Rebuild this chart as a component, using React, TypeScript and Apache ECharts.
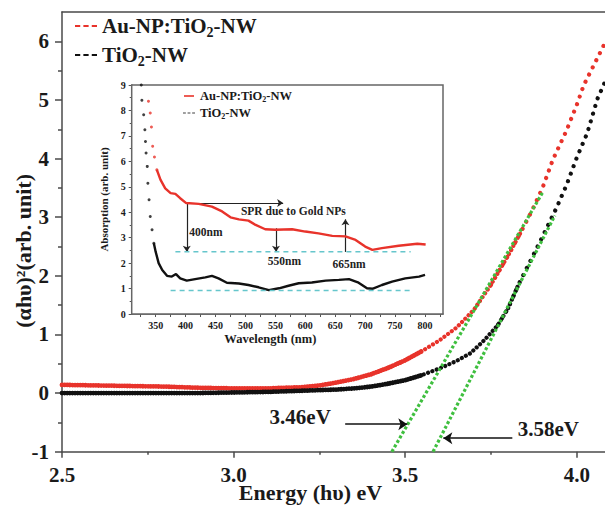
import React, { useEffect, useRef } from 'react';
import * as echarts from 'echarts';

const FONT = "'Liberation Serif', 'Times New Roman', Times, serif";
const RED = '#e8332b';
const BLACK = '#111111';
const GREEN = '#3fbf3f';
const CYAN = '#66c6cc';
const AXIS = '#4a4a4a';
const TXT = '#1a1a1a';

// Main plot: (alpha h nu)^2 vs energy
const energyAu = [2.5, 2.6, 2.7, 2.8, 2.9, 3.0, 3.1, 3.2, 3.25, 3.3, 3.35, 3.4, 3.45, 3.5, 3.55, 3.6, 3.65, 3.7, 3.75, 3.8, 3.84, 3.87, 3.9, 3.93, 3.97, 4.0, 4.02, 4.05, 4.08];
const absAu = [0.14, 0.13, 0.12, 0.11, 0.09, 0.08, 0.08, 0.1, 0.13, 0.18, 0.24, 0.32, 0.43, 0.56, 0.72, 0.9, 1.12, 1.42, 1.85, 2.35, 2.78, 3.12, 3.5, 3.98, 4.48, 4.92, 5.25, 5.6, 5.95];
const energyTi = [2.5, 2.7, 2.9, 3.0, 3.1, 3.2, 3.3, 3.35, 3.4, 3.45, 3.5, 3.55, 3.6, 3.65, 3.69, 3.73, 3.77, 3.8, 3.83, 3.86, 3.89, 3.94, 3.97, 4.0, 4.03, 4.06, 4.08];
const absTi = [0.0, 0.0, 0.0, 0.01, 0.02, 0.04, 0.06, 0.08, 0.11, 0.16, 0.22, 0.31, 0.42, 0.55, 0.68, 0.9, 1.16, 1.45, 1.85, 2.2, 2.55, 3.15, 3.55, 4.02, 4.43, 5.02, 5.28];
const tangentAuE = [3.461, 3.9];
const tangentAuY = [-1, 3.42];
const tangentTiE = [3.581, 3.936];
const tangentTiY = [-1, 3.03];

const mainXTicks = [2.5, 3.0, 3.5, 4.0];
const mainXMinor = [2.75, 3.25, 3.75];
const mainYTicks = [-1, 0, 1, 2, 3, 4, 5, 6];
const mainYMinor = [-0.5, 0.5, 1.5, 2.5, 3.5, 4.5, 5.5];

// Inset: absorption vs wavelength
const insetAuSteepNm = [338, 341, 343, 345, 348, 352];
const insetAuSteepVal = [8.36, 7.9, 7.35, 6.59, 6.17, 5.67];
const insetAuNm = [352, 358, 366, 375, 383, 391, 401, 422, 444, 461, 475, 489, 505, 517, 533, 550, 578, 600, 622, 645, 667, 684, 700, 712, 728, 756, 787, 801];
const insetAuVal = [5.67, 5.28, 4.94, 4.75, 4.72, 4.55, 4.36, 4.33, 4.22, 4.03, 3.8, 3.72, 3.67, 3.5, 3.33, 3.31, 3.33, 3.24, 3.17, 3.07, 3.05, 2.91, 2.65, 2.52, 2.59, 2.68, 2.76, 2.73];
const insetTiSteepNm = [326, 327, 330, 332, 333, 334, 336, 337, 339, 341, 344, 347];
const insetTiSteepVal = [9.0, 8.4, 7.83, 7.24, 6.78, 6.33, 5.8, 5.14, 4.49, 3.83, 3.31, 2.78];
const insetTiNm = [347, 350, 355, 361, 369, 377, 384, 391, 402, 416, 433, 444, 455, 469, 489, 505, 522, 539, 556, 572, 589, 611, 634, 656, 673, 689, 703, 712, 728, 745, 767, 790, 800];
const insetTiVal = [2.78, 2.45, 2.0, 1.73, 1.5, 1.47, 1.57, 1.4, 1.31, 1.37, 1.44, 1.5, 1.4, 1.23, 1.2, 1.14, 1.05, 0.94, 1.01, 1.11, 1.21, 1.24, 1.31, 1.34, 1.37, 1.23, 1.01, 0.99, 1.14, 1.27, 1.4, 1.47, 1.54];
const cyanUpperNm = [383, 776];
const cyanUpperVal = [2.45, 2.45];
const cyanLowerNm = [375, 776];
const cyanLowerVal = [0.92, 0.92];

const insetXLabels = [350, 400, 450, 500, 550, 600, 650, 700, 750, 800];
const insetXTicks = [325, 350, 375, 400, 425, 450, 475, 500, 525, 550, 575, 600, 625, 650, 675, 700, 725, 750, 775, 800, 825];

const AU = 'Au-NP:TiO2-NW';
const TI = 'TiO2-NW';
const AU_IN = 'inset Au-NP:TiO2-NW';
const TI_IN = 'inset TiO2-NW';

const pairs = (xs: number[], ys: number[]) => xs.map((x, i) => [x, ys[i]]);
const segment = (xs: number[], ys: number[], lo: number, hi: number) => {
  const idx = xs.map((x, i) => i).filter((i) => xs[i] >= lo && xs[i] <= hi);
  const a = Math.max(0, idx[0] - 1);
  const b = Math.min(xs.length - 1, idx[idx.length - 1] + 1);
  const out: number[][] = [];
  for (let i = a; i <= b; i++) out.push([xs[i], ys[i]]);
  return out;
};

const DASH3 = 'path://M0,0h5v2h-5zM8,0h5v2h-5zM16,0h5v2h-5z';
const SOLID = 'path://M0,0h10v2h-10z';

const bands = [
  { lo: 2.5, hi: 3.5, gap: 2.6, width: 4.8 },
  { lo: 3.5, hi: 3.8, gap: 4.6, width: 4.2 },
  { lo: 3.8, hi: 4.1, gap: 8, width: 4.2 },
];

export default function App() {
  const ref = useRef<HTMLDivElement>(null);
  useEffect(() => {
    if (!ref.current) return;
    const chart = echarts.init(ref.current, undefined, { renderer: 'svg' });
    const bold = { fontFamily: FONT, fontWeight: 'bold' as const, color: TXT };

    const mainCurve = (name: string, xs: number[], ys: number[], color: string) =>
      bands.map((b) => ({
        name,
        type: 'line',
        xAxisIndex: 0,
        yAxisIndex: 0,
        data: segment(xs, ys, b.lo, b.hi),
        showSymbol: false,
        color,
        silent: true,
        z: 3,
        lineStyle: { color, width: b.width, type: [0.01, b.gap], cap: 'round' },
      }));

    const option: any = {
      animation: false,
      backgroundColor: '#fff',
      grid: [
        { left: 62, top: 12, width: 543, height: 439.7, outerBoundsMode: 'none', containLabel: false },
        { left: 131.7, top: 85, width: 311.3, height: 229, show: true, backgroundColor: '#fff', borderColor: '#666', borderWidth: 1.5, z: 5, outerBoundsMode: 'none', containLabel: false },
      ],
      legend: [
        {
          orient: 'vertical', left: 70, top: 8, itemGap: 3, itemWidth: 22, itemHeight: 3,
          selectedMode: false,
          data: [{ name: AU, icon: DASH3 }, { name: TI, icon: DASH3 }],
          formatter: (n: string) => (n === AU ? 'Au-NP:TiO{s|2}-NW' : 'TiO{s|2}-NW'),
          textStyle: {
            ...bold, fontSize: 21, lineHeight: 26,
            rich: { s: { ...bold, fontSize: 14, lineHeight: 11, verticalAlign: 'bottom' } },
          },
        },
        {
          orient: 'vertical', left: 178, top: 84, itemGap: 3, itemWidth: 12, itemHeight: 2,
          selectedMode: false, z: 10,
          data: [{ name: AU_IN, icon: SOLID }, { name: TI_IN, icon: DASH3 }],
          formatter: (n: string) => (n === AU_IN ? 'Au-NP:TiO{s|2}-NW' : 'TiO{s|2}-NW'),
          textStyle: {
            ...bold, fontSize: 12.5, lineHeight: 14,
            rich: { s: { ...bold, fontSize: 8, lineHeight: 7, verticalAlign: 'bottom' } },
          },
        },
      ],
      xAxis: [
        {
          type: 'value', gridIndex: 0, min: 2.5, max: 4.082, position: 'bottom',
          axisLine: { show: true, onZero: false, lineStyle: { color: AXIS, width: 1.5 } },
          axisTick: { show: true, customValues: mainXTicks, length: 6, lineStyle: { color: AXIS, width: 1.5 } },
          axisLabel: { customValues: mainXTicks, formatter: (v: number) => v.toFixed(1), margin: 15, lineHeight: 16, ...bold, fontSize: 21 },
          splitLine: { show: false },
          name: 'Energy (hυ) eV', nameLocation: 'middle', nameGap: 31.5, nameMoveOverlap: false,
          nameTextStyle: { ...bold, fontSize: 22, lineHeight: 18, padding: [0, 46, 0, 0] },
        },
        {
          type: 'value', gridIndex: 0, min: 2.5, max: 4.082, position: 'bottom',
          axisLine: { show: false, onZero: false },
          axisTick: { show: true, customValues: mainXMinor, length: 3, lineStyle: { color: AXIS, width: 1.5 } },
          axisLabel: { show: false }, splitLine: { show: false },
        },
        {
          type: 'value', gridIndex: 0, min: 2.5, max: 4.082, position: 'top',
          axisLine: { show: true, onZero: false, lineStyle: { color: AXIS, width: 1.5 } },
          axisTick: { show: false }, axisLabel: { show: false }, splitLine: { show: false },
        },
        {
          type: 'value', gridIndex: 1, min: 310, max: 830, position: 'bottom',
          axisLine: { show: true, onZero: false, lineStyle: { color: '#555', width: 1.5 } },
          axisTick: { show: true, customValues: insetXTicks, length: 3, lineStyle: { color: '#555' } },
          axisLabel: { customValues: insetXLabels, margin: 6, ...bold, fontSize: 10 },
          splitLine: { show: false },
          name: 'Wavelength (nm)', nameLocation: 'middle', nameGap: 18,
          nameTextStyle: { ...bold, fontSize: 12.5, padding: [0, 34, 0, 0] },
        },
      ],
      yAxis: [
        {
          type: 'value', gridIndex: 0, min: -1, max: 6.5, position: 'left',
          axisLine: { show: true, onZero: false, lineStyle: { color: AXIS, width: 1.5 } },
          axisTick: { show: true, customValues: mainYTicks, length: 7, lineStyle: { color: AXIS, width: 1.5 } },
          axisLabel: { customValues: mainYTicks, margin: 13, ...bold, fontSize: 21 },
          splitLine: { show: false },
          name: '(αhυ)²(arb. unit)', nameLocation: 'middle', nameGap: 28, nameMoveOverlap: false,
          nameTextStyle: { ...bold, fontSize: 22, padding: [0, 38, 0, 0] },
        },
        {
          type: 'value', gridIndex: 0, min: -1, max: 6.5, position: 'left',
          axisLine: { show: false, onZero: false },
          axisTick: { show: true, customValues: mainYMinor, length: 4, lineStyle: { color: AXIS, width: 1.5 } },
          axisLabel: { show: false }, splitLine: { show: false },
        },
        {
          type: 'value', gridIndex: 1, min: 0, max: 9, interval: 1, position: 'left',
          axisLine: { show: true, onZero: false, lineStyle: { color: '#555', width: 1.5 } },
          axisTick: { show: true, length: 3, lineStyle: { color: '#555' } },
          minorTick: { show: true, splitNumber: 2, length: 2, lineStyle: { color: '#555' } },
          axisLabel: { margin: 6, ...bold, fontSize: 10 },
          splitLine: { show: false },
          name: 'Absorption (arb. unit)', nameLocation: 'middle', nameGap: 22,
          nameTextStyle: { ...bold, fontSize: 11 },
        },
      ],
      series: [
        ...mainCurve(AU, energyAu, absAu, RED),
        ...mainCurve(TI, energyTi, absTi, BLACK),
        {
          name: 'tangent Au', type: 'line', xAxisIndex: 0, yAxisIndex: 0, showSymbol: false, silent: true, z: 4,
          data: pairs(tangentAuE, tangentAuY), color: GREEN,
          lineStyle: { color: GREEN, width: 3.2, type: [3, 2.2] },
          markLine: {
            silent: true, symbol: ['none', 'arrow'], symbolSize: 9, animation: false,
            lineStyle: { color: '#111', width: 1.5, type: 'solid' }, label: { show: false },
            data: [
              [{ coord: [3.325, -0.53] }, { coord: [3.506, -0.53] }],
              [{ coord: [3.812, -0.77] }, { coord: [3.611, -0.77] }],
            ],
          },
          markPoint: {
            silent: true, symbol: 'rect', symbolSize: 1, itemStyle: { color: 'rgba(0,0,0,0)' },
            label: { show: true, position: 'inside', formatter: '{b}', ...bold, fontSize: 21 },
            data: [
              { name: '3.46eV', coord: [3.194, -0.41] },
              { name: '3.58eV', coord: [3.917, -0.62] },
            ],
          },
        },
        {
          name: 'tangent Ti', type: 'line', xAxisIndex: 0, yAxisIndex: 0, showSymbol: false, silent: true, z: 4,
          data: pairs(tangentTiE, tangentTiY), color: GREEN,
          lineStyle: { color: GREEN, width: 3.2, type: [3, 2.2] },
        },
        {
          name: AU_IN, type: 'scatter', xAxisIndex: 3, yAxisIndex: 2, symbolSize: 3, color: RED, silent: true, z: 6,
          data: pairs(insetAuSteepNm, insetAuSteepVal),
        },
        {
          name: AU_IN, type: 'line', xAxisIndex: 3, yAxisIndex: 2, showSymbol: false, color: RED, silent: true, z: 6,
          data: pairs(insetAuNm, insetAuVal), lineStyle: { color: RED, width: 2.4 },
        },
        {
          name: TI_IN, type: 'scatter', xAxisIndex: 3, yAxisIndex: 2, symbolSize: 3, color: BLACK, silent: true, z: 6,
          data: pairs(insetTiSteepNm, insetTiSteepVal),
        },
        {
          name: TI_IN, type: 'line', xAxisIndex: 3, yAxisIndex: 2, showSymbol: false, color: BLACK, silent: true, z: 6,
          data: pairs(insetTiNm, insetTiVal), lineStyle: { color: BLACK, width: 2.4 },
        },
        {
          name: 'cyan upper', type: 'line', xAxisIndex: 3, yAxisIndex: 2, showSymbol: false, silent: true, z: 6,
          data: pairs(cyanUpperNm, cyanUpperVal), color: CYAN,
          lineStyle: { color: CYAN, width: 1.5, type: [5, 4] },
          markLine: {
            silent: true, symbol: ['none', 'arrow'], symbolSize: 6, animation: false,
            lineStyle: { color: '#222', width: 1.2, type: 'solid' }, label: { show: false },
            data: [
              [{ coord: [402, 4.36] }, { coord: [563, 4.36] }],
              [{ coord: [402, 4.36] }, { coord: [402, 2.45] }],
              [{ coord: [551, 3.37] }, { coord: [551, 2.45] }],
              [{ coord: [667, 2.44] }, { coord: [667, 3.72] }],
            ],
          },
          markPoint: {
            silent: true, symbol: 'rect', symbolSize: 1, itemStyle: { color: 'rgba(0,0,0,0)' },
            label: { show: true, position: 'inside', formatter: '{b}', ...bold, fontSize: 11.5, color: '#222' },
            data: [
              { name: '400nm', coord: [434, 3.22] },
              { name: 'SPR due to Gold NPs', coord: [580, 4.05] },
              { name: '550nm', coord: [565, 2.08] },
              { name: '665nm', coord: [673, 1.97] },
            ],
          },
        },
        {
          name: 'cyan lower', type: 'line', xAxisIndex: 3, yAxisIndex: 2, showSymbol: false, silent: true, z: 6,
          data: pairs(cyanLowerNm, cyanLowerVal), color: CYAN,
          lineStyle: { color: CYAN, width: 1.5, type: [5, 4] },
        },
      ],
    };
    chart.setOption(option);
    return () => chart.dispose();
  }, []);
  return (
    <div
      ref={ref}
      style={{ position: 'absolute', left: 0, top: 0, width: 605, height: 505, background: '#fff' }}
    />
  );
}
